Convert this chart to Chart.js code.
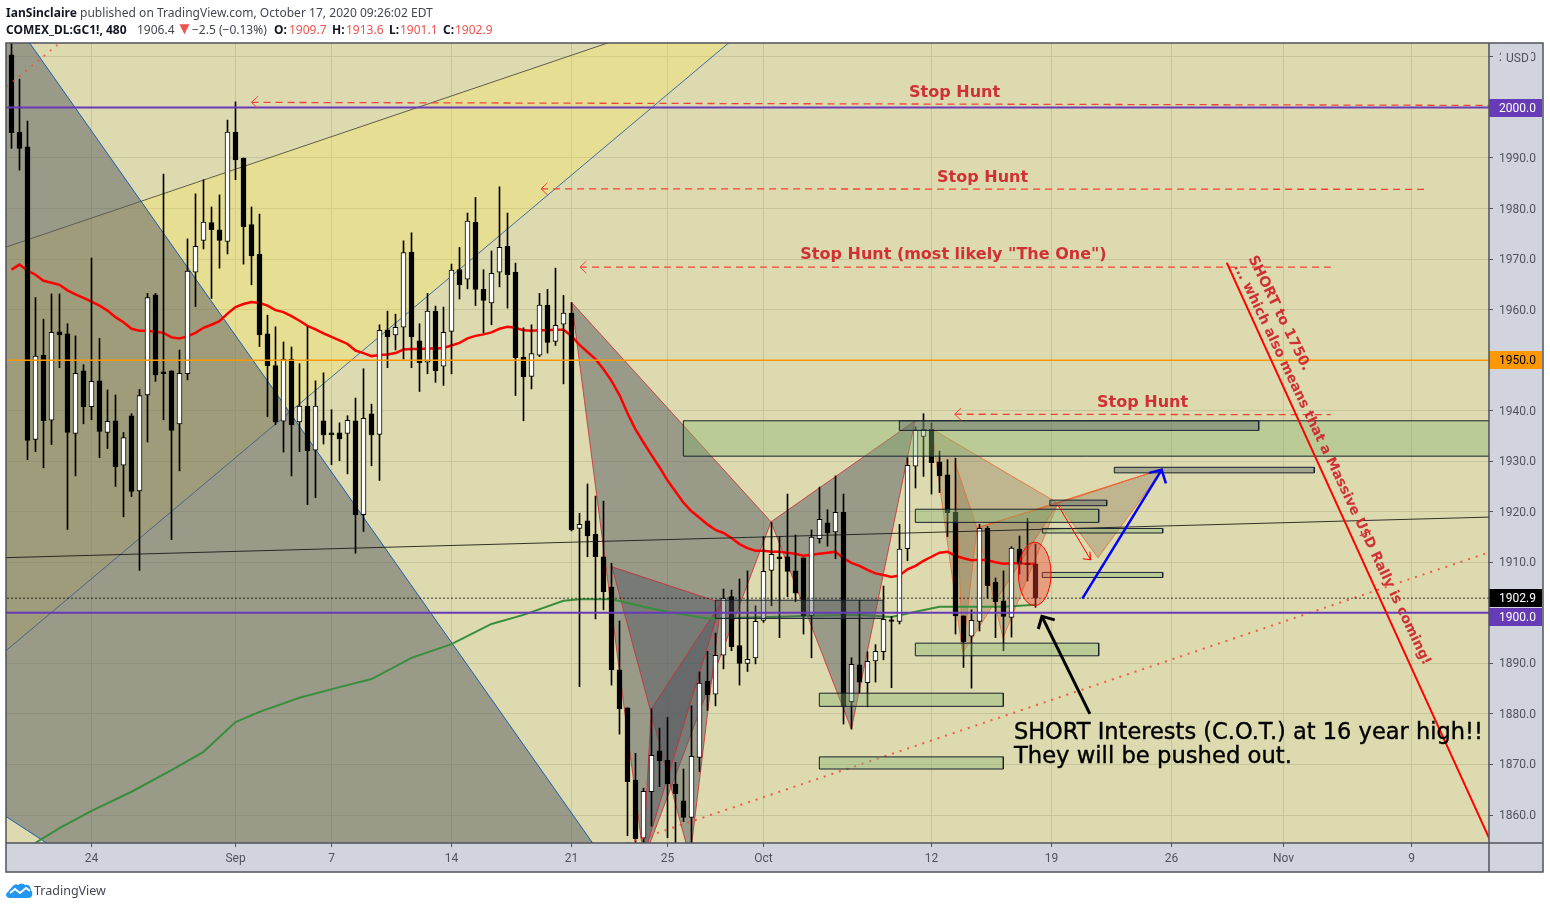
<!DOCTYPE html>
<html>
<head>
<meta charset="utf-8">
<title>GC1! 480</title>
<script src="https://cdn.jsdelivr.net/npm/chart.js@4/dist/chart.umd.js"></script>
<style>
  html, body { margin: 0; padding: 0; background: #fff; }
  #wrap { position: relative; width: 1550px; height: 909px; overflow: hidden; }
  canvas { position: absolute; left: 0; top: 0; }
  .hdr { position: absolute; font: 12px "Noto Sans", sans-serif; color: #434651; white-space: nowrap; line-height: 16px; }
  .hdr b { color: #131722; font-weight: 700; }
  .dn { color: #ef5350; }
  #logo { position: absolute; left: 6px; top: 883px; }
  #logoText { position: absolute; left: 34px; top: 882px; font: 12.5px "Noto Sans", sans-serif; color: #434651; line-height: 18px; }
</style>
</head>
<body>
<div id="wrap">
  <canvas id="goldChart" width="1550" height="909"></canvas>
  <div class="hdr" style="left:6px;top:5px;letter-spacing:0.03px"><b>IanSinclaire</b> published on TradingView.com, October 17, 2020 09:26:02 EDT</div>
  <div class="hdr" style="left:6px;top:22px"><b>COMEX_DL:GC1!, 480</b></div>
  <div class="hdr" style="left:137px;top:22px">1906.4</div>
  <div class="hdr dn" style="left:176px;top:20px;font-size:17px">▼</div>
  <div class="hdr" style="left:192px;top:22px">−2.5 (−0.13%)</div>
  <div class="hdr" style="left:274px;top:22px"><b>O:</b></div>
  <div class="hdr dn" style="left:289px;top:22px">1909.7</div>
  <div class="hdr" style="left:332px;top:22px"><b>H:</b></div>
  <div class="hdr dn" style="left:346px;top:22px">1913.6</div>
  <div class="hdr" style="left:389px;top:22px"><b>L:</b></div>
  <div class="hdr dn" style="left:400px;top:22px">1901.1</div>
  <div class="hdr" style="left:443px;top:22px"><b>C:</b></div>
  <div class="hdr dn" style="left:455px;top:22px">1902.9</div>
  <svg id="logo" width="27" height="15" viewBox="0 0 27 15"><path d="M0 11 L6 4 Q9 0 12 2 Q15 -1 19 2 Q24 1 25 7 Q27 9 26 13 Q25 15 22 15 L4 15 Q0 15 0 11Z" fill="#2196f3"/><path d="M4 10 L9 6 L14 10 L20 5 L24 8" stroke="#fff" stroke-width="2" fill="none"/></svg>
  <div id="logoText">TradingView</div>
</div>
<script>
// 8h candles, x axis is simply the bar number
const opens = [2010.4,1995.1,1992.2,1934.3,1951.0,1938.1,1955.6,1955.2,1935.5,1947.9,
  1940.8,1945.9,1935.7,1938.0,1929.2,1939.0,1924.1,1943.1,1962.9,1947.7,
  1947.9,1937.4,1947.3,1967.4,1973.7,1977.2,1975.8,1973.5,1995.1,1990.0,
  1976.8,1971.0,1955.2,1948.9,1937.9,1950.2,1937.8,1940.9,1932.2,1938.0,
  1935.6,1935.6,1935.5,1938.0,1919.4,1939.4,1935.3,1956.0,1955.0,1956.5,
  1971.4,1953.8,1949.6,1959.7,1948.8,1955.7,1967.9,1966.0,1977.3,1964.0,
  1961.3,1967.4,1972.5,1967.4,1950.6,1946.8,1951.0,1960.9,1953.7,1957.1,
  1959.3,1916.7,1918.2,1915.6,1911.1,1905.1,1888.7,1881.2,1866.9,1855.4,
  1864.6,1872.7,1870.8,1866.1,1862.8,1859.5,1871.4,1886.5,1883.9,1891.6,
  1903.2,1893.5,1890.0,1891.1,1898.5,1908.4,1911.1,1911.1,1908.3,1910.9,
  1899.5,1914.7,1917.8,1916.0,1919.9,1882.4,1889.7,1886.2,1890.5,1892.3,
  1898.6,1898.3,1912.7,1929.0,1934.9,1936.3,1929.9,1927.3,1919.9,1899.4,
  1895.4,1898.3,1916.7,1906.1,1902.4,1899.1,1912.6,1909.8,1909.7];
const highs = [2014,2005.6,1997.3,1962.4,1958.1,1963.1,1963.1,1957.2,1954.8,1949.1,
  1970.2,1954.3,1944.1,1943.1,1935.7,1939.4,1944.2,1963.2,1963.2,1986.8,
  1947.9,1952.0,1974.0,1982.9,1985.7,1980.3,1982.7,1997.5,2001.1,1990.0,
  1980.3,1978.9,1958.9,1956.6,1953.6,1952.6,1949.3,1956.6,1945.9,1947.5,
  1940.2,1937.6,1939.0,1942.5,1948.3,1941.3,1957.0,1959.7,1959.1,1973.6,
  1975.2,1957.2,1963.2,1960.7,1960.5,1969.0,1972.3,1979.1,1982.2,1967.9,
  1971.6,1984.3,1979.1,1969.2,1956.4,1957.0,1963.2,1964.0,1968.2,1962.8,
  1961.4,1919.7,1925.5,1923.1,1922.1,1909.8,1898.4,1881.2,1872.2,1865.3,
  1881.0,1877.2,1879.3,1870.4,1869.1,1881.6,1888.3,1892.4,1896.0,1904.7,
  1904.5,1906.7,1908.3,1901.4,1915.1,1917.9,1915.0,1923.5,1915.4,1910.9,
  1916.4,1924.9,1920.4,1927.1,1923.5,1891.1,1902.5,1892.3,1893.7,1905.3,
  1899.3,1917.5,1930.7,1936.8,1939.4,1937.6,1932.0,1930.3,1930.6,1899.4,
  1900.6,1917.5,1917.1,1906.9,1908.3,1913.1,1915.2,1918.7,1913.6];
const lows = [1991.9,1987.6,1930.3,1931.9,1928.7,1933.3,1948.5,1916.5,1927.1,1937.4,
  1938.2,1930.7,1932.5,1925.0,1919.0,1923.0,1908.4,1933.8,1945.8,1938.2,
  1914.5,1928.1,1946.1,1960.6,1972.0,1962.2,1968.2,1971.0,1985.7,1969.0,
  1964.9,1952.7,1938.8,1937.2,1931.8,1927.1,1931.9,1921.4,1922.8,1933.4,
  1929.3,1930.1,1927.5,1911.8,1916.1,1929.1,1926.2,1948.5,1952.0,1950.2,
  1948.5,1943.8,1947.3,1945.6,1945.0,1947.3,1962.1,1964.1,1960.8,1955.4,
  1957.0,1964.5,1960.3,1943.0,1938.0,1944.3,1950.7,1951.4,1952.9,1945.3,
  1916.2,1885.4,1911.1,1898.8,1900.6,1885.7,1876.0,1855.9,1853,1853,
  1857.8,1865.6,1855.5,1853,1858.7,1853,1868.6,1880.7,1881.6,1888.9,
  1892.5,1885.7,1888.4,1889.9,1898.1,1901.4,1895.1,1903.2,1902.2,1895.8,
  1891.1,1913.8,1913.2,1910.7,1878.0,1877.0,1884.2,1881.4,1886.3,1890.7,
  1885.2,1897.8,1910.3,1924.7,1927.0,1923.5,1923.8,1915.1,1895.8,1889.2,
  1885.1,1896.4,1902.9,1895.1,1892.5,1895.2,1907.7,1906.3,1901.1];
const closes = [1995.0,1991.9,1934.1,1950.8,1938.0,1955.5,1955.0,1935.7,1947.4,1940.8,
  1945.8,1935.9,1937.9,1928.9,1934.7,1924.0,1943.0,1962.4,1947.1,1947.3,
  1936.1,1947.4,1967.6,1972.5,1977.3,1975.8,1973.7,1995.1,1989.6,1976.4,
  1970.6,1955.0,1948.9,1937.8,1950.2,1937.2,1940.9,1932.1,1940.9,1935.2,
  1935.2,1934.4,1938.1,1919.4,1938.5,1935.2,1955.9,1954.6,1956.5,1971.3,
  1954.6,1949.5,1959.7,1947.9,1955.5,1967.8,1964.9,1977.5,1964.0,1961.8,
  1967.2,1972.3,1966.9,1950.5,1946.7,1951.3,1960.9,1953.5,1956.9,1959.3,
  1916.4,1917.5,1915.2,1911.1,1904.2,1888.7,1881.0,1866.6,1855.3,1864.7,
  1871.8,1870.7,1866.2,1864.2,1859.5,1871.6,1886.1,1883.8,1891.6,1902.9,
  1893.3,1890.0,1890.8,1898.3,1908.2,1911.6,1910.7,1908.2,1903.9,1899.4,
  1915.0,1918.5,1915.8,1919.9,1881.5,1889.8,1886.3,1890.4,1892.4,1898.7,
  1898.3,1912.6,1929.2,1936.2,1936.3,1929.7,1927.1,1919.8,1899.4,1894.3,
  1898.5,1916.7,1905.4,1902.2,1899.3,1912.8,1909.7,1909.5,1902.9];

// red moving average, one value per candle
const redMA = [1967.9,1968.9,1967.7,1966.9,1965.7,1965.3,1964.9,1963.8,1963.0,1962.3,
  1961.6,1960.8,1959.8,1958.5,1957.5,1956.2,1955.8,1955.8,1955.6,1955.4,
  1954.5,1954.3,1954.7,1955.4,1956.4,1957.0,1957.7,1959.2,1960.5,1961.1,
  1961.5,1961.3,1960.8,1959.9,1959.5,1958.7,1957.8,1956.8,1956.1,1955.3,
  1954.6,1953.9,1953.2,1951.9,1951.4,1950.8,1951.0,1951.1,1951.4,1952.1,
  1952.2,1952.2,1952.3,1952.3,1952.4,1952.9,1953.4,1954.3,1954.8,1955.1,
  1955.5,1956.2,1956.6,1956.4,1955.9,1955.8,1955.9,1955.9,1956.0,1956.0,
  1954.8,1953.0,1951.6,1950.2,1948.2,1945.9,1943.1,1939.5,1936.3,1933.7,
  1931.2,1928.8,1926.2,1924.0,1921.8,1920.1,1918.8,1917.5,1916.4,1915.8,
  1914.8,1913.6,1912.8,1912.3,1912.3,1912.1,1912.1,1911.9,1911.7,1911.3,
  1911.5,1911.7,1911.9,1912.1,1910.8,1909.9,1909.3,1908.5,1907.8,1907.5,
  1907.1,1907.4,1908.6,1909.3,1910.3,1911.1,1911.9,1912.1,1911.3,1910.8,
  1910.4,1910.5,1910.4,1910.0,1909.7,1909.8,1909.8,1909.7,1909.7];

// green moving average, read at the bends only
const greenBars = [3,6,10,15,20,24,28,31,36,41,45,50,55,60,64,69,71,75,77,79,82,85,87,95,100,106,110,113,116,120,124,128];
const greenMA = [1854.5,1857.4,1860.8,1864.6,1868.9,1872.5,1878.4,1880.4,1883.2,1885.3,1886.9,1891.1,1893.8,1897.8,1899.6,1902.4,1902.7,1902.7,1902.0,1901.2,1900.2,1899.4,1898.9,1899.2,1899.4,1899.6,1899.2,1900.2,1901.2,1901.2,1901.2,1901.6];

const xTickBars = [10,28,40,55,70,82,94,115,130,145,159,175];
const xTickLabels = ["24","Sep","7","14","21","25","Oct","12","19","26","Nov","9"];
const yTicks = [1860,1870,1880,1890,1900,1910,1920,1930,1940,1950,1960,1970,1980,1990,2000,2010];

// drawings as [bar, price]
const yellowWedge = [[-1,1972.2],[76.1,2013.6],[91.1,2014.7],[-1,1892.1]];
const yellowTop = [[-1,1972.2],[76.1,2013.6]];
const yellowBottom = [[-1,1892.1],[91.1,2014.7]];
const greyWedge = [[1.09,2015.4],[74.8,1849.6],[6.09,1852.7],[-1.75,1860.8],[-1.75,2015.4]];
const greyEdgeA = [[1.09,2015.4],[74.8,1849.6]];
const greyEdgeB = [[-1.75,1860.8],[6.09,1852.7]];

const greyPatterns = [
  [[70.03,1961.4],[79.04,1851.2],[94.94,1918.0]],
  [[94.94,1918.0],[104.98,1877.0],[112.94,1938.0]],
  [[75.06,1909.1],[84.81,1851.5],[88.69,1902.0]],
  [[88.69,1902.0],[79.98,1881.0],[78.94,1851.5]]
];
const orangePatterns = [
  [[115.03,1936.4],[118.9,1892.1],[130.81,1921.7]],
  [[117.94,1929.7],[118.9,1892.1],[120.69,1916.8]],
  [[120.69,1916.8],[123.94,1895.0],[130.81,1921.7]],
  [[130.81,1921.7],[135.81,1910.9],[143.94,1928.5]],
  [[120.69,1916.8],[130.81,1921.7],[143.94,1928.5]]
];

// boxes: bar from, bar to, price top, price bottom
const greenBoxes = [
  [83.98,186,1938.0,1931.0],
  [112.98,135.9,1920.5,1917.9],
  [128.85,143.9,1916.7,1915.8],
  [128.85,143.9,1908.0,1907.0],
  [112.98,135.9,1894.0,1891.5],
  [100.98,123.98,1884.1,1881.5],
  [100.98,123.98,1871.5,1869.1]
];
const greyBoxes = [
  [110.98,155.9,1938.0,1936.1],
  [129.8,136.9,1922.3,1921.2],
  [137.85,162.85,1928.8,1927.7],
  [87.98,108.98,1902.5,1898.9]
];

const stopLines = [
  [[30,2001.0],[184.7,2000.4]],
  [[66.2,1983.9],[176.9,1983.8]],
  [[71.06,1968.4],[164.9,1968.4]],
  [[117.9,1939.3],[164.9,1939.2]]
];
const longTrend = [[-1,1910.9],[186,1919.0]];
const dottedTrend = [[76.9,1854.4],[184.56,1911.9]];
const dottedTopLeft = [[-0.6,2004.1],[6.06,2012.8]];
const shortLine = [[151.9,1969.3],[186,1850.9]];
const redArrow = [[130.85,1921.2],[134.9,1910.5]];
const redArrowHead = [[133.9,1910.7],[134.9,1910.5],[134.8,1912.1]];
const blueArrow = [[133.85,1902.8],[143.77,1928.3]];
const blueArrowHead = [[142.2,1927.7],[143.77,1928.3],[144.3,1925.6]];
const blackArrow = [[134.8,1880.0],[128.8,1899.3]];
const blackArrowHead = [[130.4,1898.6],[128.8,1899.3],[128.35,1896.8]];

const ellipseBar = 127.9, ellipsePrice = 1907.7, ellipseBars = 2.04, ellipsePrices = 6.27;

const notes = [
  { text: "Stop Hunt", bar: 112.2, price: 2002.8, font: "bold 16px 'DejaVu Sans'" },
  { text: "Stop Hunt", bar: 115.7, price: 1986.1, font: "bold 16px 'DejaVu Sans'" },
  { text: "Stop Hunt (most likely \"The One\")", bar: 98.6, price: 1970.9, font: "bold 16px 'DejaVu Sans'" },
  { text: "Stop Hunt", bar: 135.7, price: 1941.6, font: "bold 16px 'DejaVu Sans'" },
  { text: "SHORT to 1750.", bar: 155, price: 1970.5, font: "bold 14.3px 'DejaVu Sans'", angle: 64 },
  { text: "... which also means that a Massive U$D Rally is coming!", bar: 153.2, price: 1968.9, font: "bold 13.8px 'DejaVu Sans'", angle: 64.6 },
  { text: "SHORT Interests (C.O.T.) at 16 year high!!", bar: 125.3, price: 1876.2, font: "22.5px 'DejaVu Sans'", color: "#000", stroke: 0.4 },
  { text: "They will be pushed out.", bar: 125.3, price: 1871.5, font: "22.7px 'DejaVu Sans'", color: "#000", stroke: 0.4 }
];

const priceTags = [
  { label: "2000.0", price: 2000, top: 99, bg: "#673ab7", fg: "#fff" },
  { label: "1950.0", price: 1950, top: 351, bg: "#ff9800", fg: "#000" },
  { label: "1902.9", price: 1902.9, top: 589, bg: "#000", fg: "#fff" },
  { label: "1900.0", price: 1900, top: 608, bg: "#673ab7", fg: "#fff" }
];

const PLOT_BG = "#dedaaf";
const AXIS_BG = "#d1d4dc";
const FRAME = "#50535e";
const FONT = "Roboto";

let drawOrder = 1000;
const datasets = [];

function pts(list) {
  return list.map(p => ({ x: p[0], y: p[1] }));
}

// later calls end up on top
function addLine(list, color, width, dash) {
  datasets.push({
    type: "line", data: pts(list), borderColor: color, borderWidth: width,
    borderDash: dash || [], pointRadius: 0, tension: 0, fill: false, clip: 0, order: drawOrder--
  });
}

function addShape(list, fillColor, lineColor) {
  datasets.push({
    type: "line", data: pts(list.concat([list[0]])), backgroundColor: fillColor,
    borderColor: lineColor || "rgba(0,0,0,0)", borderWidth: lineColor ? 1 : 0,
    pointRadius: 0, tension: 0, fill: "shape", clip: 0, order: drawOrder--
  });
}

function boxPoints(b) {
  return [[b[0], b[2]], [b[1], b[2]], [b[1], b[3]], [b[0], b[3]]];
}

// wedges and patterns sit under the candles, the boxes and lines over them
addShape(yellowWedge, "rgba(255,235,59,0.25)");
addLine(yellowTop, "rgba(40,40,40,0.7)", 1);
addLine(yellowBottom, "rgba(33,90,170,0.85)", 1);
addShape(greyWedge, "rgba(86,90,97,0.5)");
addLine(greyEdgeA, "#1e5db0", 1);
addLine(greyEdgeB, "#1e5db0", 1);
greyPatterns.forEach(t => addShape(t, "rgba(86,90,97,0.5)", "rgba(205,40,50,0.8)"));
orangePatterns.forEach(t => addShape(t, "rgba(120,100,70,0.3)", "rgba(235,105,50,0.8)"));

addLine(redMA.map((v, i) => [i, v]), "#ff0000", 2.5);
addLine(greenBars.map((b, i) => [b, greenMA[i]]), "#388e3c", 2);

datasets.push({
  label: "wicks",
  data: highs.map((h, i) => ({ x: i, y: [lows[i], h] })),
  backgroundColor: "#000", grouped: false, maxBarThickness: 1,
  barPercentage: 1, categoryPercentage: 1, order: drawOrder--
});
datasets.push({
  label: "bodies",
  data: opens.map((o, i) => ({ x: i, y: [o, closes[i]] })),
  backgroundColor: opens.map((o, i) => closes[i] >= o ? "#fff" : "#000"),
  borderColor: "#000", borderWidth: 1, borderSkipped: false, grouped: false, maxBarThickness: 5,
  barPercentage: 1, categoryPercentage: 1, order: drawOrder--
});

addLine(longTrend, "rgba(20,20,20,0.85)", 1);
addLine(dottedTrend, "rgba(244,67,54,0.85)", 2, [2, 6]);
addLine(dottedTopLeft, "rgba(244,67,54,0.7)", 2, [2, 6]);

greenBoxes.forEach(b => addShape(boxPoints(b), "rgba(134,180,112,0.4)", "#16202c"));
greyBoxes.forEach(b => addShape(boxPoints(b), "rgba(86,90,97,0.4)", "#16202c"));

addLine([[-1, 1902.9], [186, 1902.9]], "#000", 1.5, [1, 3]);
addLine([[-1, 2000], [186, 2000]], "#673ab7", 2);
addLine([[-1, 1900], [186, 1900]], "#673ab7", 2);
addLine([[-1, 1950], [186, 1950]], "#ff9800", 1.5);

stopLines.forEach(l => {
  addLine(l, "#f44336", 1.3, [7, 5]);
  const tip = l[0];
  addLine([[tip[0] + 0.8, tip[1] + 1.2], tip, [tip[0] + 0.8, tip[1] - 1.2]], "#f44336", 1);
});
addLine(shortLine, "#ff0000", 2);
addLine(redArrow, "#ff0000", 1);
addLine(redArrowHead, "#ff0000", 1);
addLine(blueArrow, "#0000ff", 2.5);
addLine(blueArrowHead, "#0000ff", 2.5);
addLine(blackArrow, "#000", 3);
addLine(blackArrowHead, "#000", 3);

const backdrop = {
  id: "backdrop",
  beforeDraw(chart) {
    const { ctx, chartArea: a } = chart;
    ctx.save();
    ctx.fillStyle = AXIS_BG;
    ctx.fillRect(6, 43, 1537, 829);
    ctx.fillStyle = PLOT_BG;
    ctx.fillRect(a.left, a.top, a.right - a.left, a.bottom - a.top);
    ctx.restore();
  },
  afterDatasetsDraw(chart) {
    const { ctx, scales: { x, y }, chartArea: a } = chart;
    ctx.save();
    ctx.beginPath();
    ctx.rect(a.left, a.top, a.right - a.left, a.bottom - a.top);
    ctx.clip();

    const cx = x.getPixelForValue(ellipseBar), cy = y.getPixelForValue(ellipsePrice);
    const rx = Math.abs(x.getPixelForValue(ellipseBar + ellipseBars) - cx);
    const ry = Math.abs(y.getPixelForValue(ellipsePrice + ellipsePrices) - cy);
    ctx.beginPath();
    ctx.ellipse(cx, cy, rx, ry, 0, 0, Math.PI * 2);
    ctx.fillStyle = "rgba(244,67,54,0.4)";
    ctx.fill();
    ctx.strokeStyle = "#ff0000";
    ctx.lineWidth = 1;
    ctx.stroke();

    notes.forEach(n => {
      ctx.save();
      ctx.translate(x.getPixelForValue(n.bar), y.getPixelForValue(n.price));
      if (n.angle) ctx.rotate(n.angle * Math.PI / 180);
      ctx.font = n.font;
      ctx.fillStyle = n.color || "rgba(205,40,45,0.95)";
      ctx.textAlign = "left";
      ctx.textBaseline = "middle";
      ctx.fillText(n.text, 0, 0);
      if (n.stroke) {
        ctx.strokeStyle = n.color;
        ctx.lineWidth = n.stroke;
        ctx.strokeText(n.text, 0, 0);
      }
      ctx.restore();
    });
    ctx.restore();
  },
  afterDraw(chart) {
    const { ctx } = chart;
    ctx.save();
    ctx.fillStyle = AXIS_BG;
    ctx.fillRect(1501, 50, 30, 15);
    ctx.font = "12px " + FONT;
    ctx.fillStyle = FRAME;
    ctx.textAlign = "left";
    ctx.textBaseline = "middle";
    ctx.fillText("USD", 1506, 58.5);

    priceTags.forEach(t => {
      ctx.fillStyle = t.bg;
      ctx.fillRect(1489, t.top, 53, 18);
      ctx.fillStyle = t.fg;
      ctx.fillText(t.label, 1499, t.top + 10);
    });

    ctx.strokeStyle = FRAME;
    ctx.lineWidth = 1.5;
    ctx.strokeRect(6, 43, 1537, 829);
    ctx.beginPath();
    ctx.moveTo(1489, 43); ctx.lineTo(1489, 872);
    ctx.moveTo(6, 843); ctx.lineTo(1543, 843);
    ctx.stroke();
    ctx.restore();
  }
};

new Chart(document.getElementById("goldChart"), {
  type: "bar",
  data: { datasets },
  plugins: [backdrop],
  options: {
    responsive: false,
    animation: false,
    events: [],
    layout: { padding: { left: 6, top: 43, right: 7, bottom: 37 } },
    plugins: { legend: { display: false }, tooltip: { enabled: false } },
    scales: {
      x: {
        type: "linear",
        offset: false,
        min: -0.6875,
        max: 184.6875,
        afterBuildTicks: s => { s.ticks = xTickBars.map(v => ({ value: v })); },
        afterFit: s => { s.height = 29; },
        grid: { offset: false, color: "#c6c49c", tickColor: FRAME, tickLength: 4, lineWidth: 1 },
        border: { display: false },
        ticks: {
          autoSkip: false, maxRotation: 0, padding: 5, color: FRAME,
          font: { family: FONT, size: 12 },
          callback: v => xTickLabels[xTickBars.indexOf(v)]
        }
      },
      y: {
        position: "right",
        min: 1854.46,
        max: 2012.75,
        afterBuildTicks: s => { s.ticks = yTicks.map(v => ({ value: v })); },
        afterFit: s => { s.width = 54; },
        grid: { color: "#c6c49c", tickColor: FRAME, tickLength: 4, lineWidth: 1 },
        border: { display: false },
        ticks: {
          autoSkip: false, padding: 6, color: FRAME, labelOffset: 1,
          font: { family: FONT, size: 12 },
          callback: v => v.toFixed(1)
        }
      }
    }
  }
});
</script>
</body>
</html>
